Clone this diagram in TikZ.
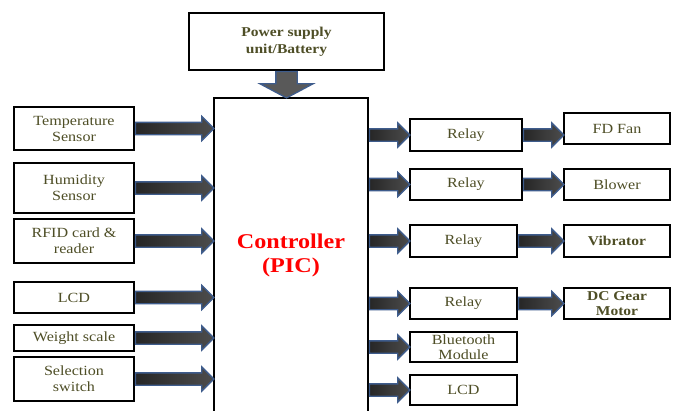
\documentclass[tikz,border=0pt]{standalone}
\usepackage{fontspec}
\setmainfont{Liberation Serif}[FakeStretch=1.15]
\usepackage{tikz}
\usepackage{xcolor}
\usetikzlibrary{shapes.arrows, calc, positioning}
\definecolor{txtolive}{RGB}{78,78,38}
\definecolor{arrblue}{RGB}{62,92,140}
\tikzstyle{block}   = [rectangle, draw=black, line width=1.5pt, fill=white, align=center,
                       inner sep=1pt, text=txtolive, font=\fontsize{14}{16}\selectfont]
\tikzstyle{blockb}  = [block, font=\fontsize{13.5}{16}\selectfont\bfseries]
\tikzstyle{fatarr}  = [single arrow, draw=arrblue, line width=1.3pt, inner xsep=0pt, inner ysep=5.5pt,
                       single arrow head extend=6pt, single arrow head indent=0pt,
                       left color=black!85, middle color=black!35, right color=black!70]
\tikzstyle{bigarr}  = [fatarr, inner ysep=10pt, single arrow head extend=16pt, single arrow tip angle=124,
                       left color=black!65, middle color=black!40, right color=black!65]
% fat arrow from one anchor to another
\newcommand{\fatarrow}[3][fatarr]{%
  \path let \p1=(#2), \p2=(#3), \n1={veclen(\x2-\x1,\y2-\y1)}, \n2={atan2(\y2-\y1,\x2-\x1)} in
    node[#1, minimum height=\n1, rotate=\n2, anchor=tail] at (\p1) {};}

\begin{document}
\begin{tikzpicture}[x=1pt, y=-1pt]
    \useasboundingbox (0,0) rectangle (679,410);

    \node (power) [blockb, minimum width=195pt, minimum height=57pt, font=\fontsize{13.5}{17}\selectfont\bfseries] at (286.5,41.5) {Power supply\\unit/Battery};
    \node (ctl) [block, minimum width=154pt, minimum height=314pt, text=red,
                 font=\fontsize{21}{24}\selectfont\bfseries] at (291,255) {Controller\\(PIC)};

    % inputs
    \node (temp) [block, minimum width=120pt, minimum height=43pt] at (74,128.5) {Temperature\\Sensor};
    \node (hum)  [block, minimum width=120pt, minimum height=50pt] at (74,188) {Humidity\\Sensor};
    \node (rfid) [block, minimum width=120pt, minimum height=44pt] at (74,241) {RFID card \&\\reader};
    \node (lcdin) [block, minimum width=120pt, minimum height=31pt] at (74,297.5) {LCD};
    \node (weight) [block, minimum width=120pt, minimum height=26pt] at (74,338) {Weight scale};
    \node (sel)  [block, minimum width=120pt, minimum height=44pt] at (74,379) {Selection\\switch};

    % outputs
    \node (r1) [block, minimum width=112pt, minimum height=32pt] at (466,135) {Relay};
    \node (r2) [block, minimum width=112pt, minimum height=31pt] at (466,184.5) {Relay};
    \node (r3) [block, minimum width=107pt, minimum height=32pt] at (463.5,241) {Relay};
    \node (r4) [block, minimum width=107pt, minimum height=31pt] at (463.5,303.5) {Relay};
    \node (bt) [block, minimum width=107pt, minimum height=30pt, font=\fontsize{14}{14.5}\selectfont] at (463.5,347) {Bluetooth\\Module};
    \node (lcdout) [block, minimum width=107pt, minimum height=30pt] at (463.5,390) {LCD};

    \node (fan)    [block, minimum width=106pt, minimum height=31pt] at (617,128.5) {FD Fan};
    \node (blower) [block, minimum width=106pt, minimum height=31pt] at (617,184.5) {Blower};
    \node (vib)    [blockb, minimum width=106pt, minimum height=32pt] at (617,241) {Vibrator};
    \node (motor)  [blockb, minimum width=106pt, minimum height=31pt, font=\fontsize{13.5}{15}\selectfont\bfseries] at (617,303.5) {DC Gear\\Motor};

    \fatarrow[bigarr]{power.south}{power.south |- ctl.north}
    \foreach \b in {temp, hum, rfid, lcdin, weight, sel}
        {\fatarrow{\b.east}{ctl.west |- \b.east}}
    \foreach \b in {r1, r2, r3, r4, bt, lcdout}
        {\fatarrow{ctl.east |- \b.west}{\b.west}}
    \fatarrow{r1.east}{fan.west |- r1.east}
    \fatarrow{r2.east}{blower.west}
    \fatarrow{r3.east}{vib.west}
    \fatarrow{r4.east}{motor.west}
\end{tikzpicture}
\end{document}
